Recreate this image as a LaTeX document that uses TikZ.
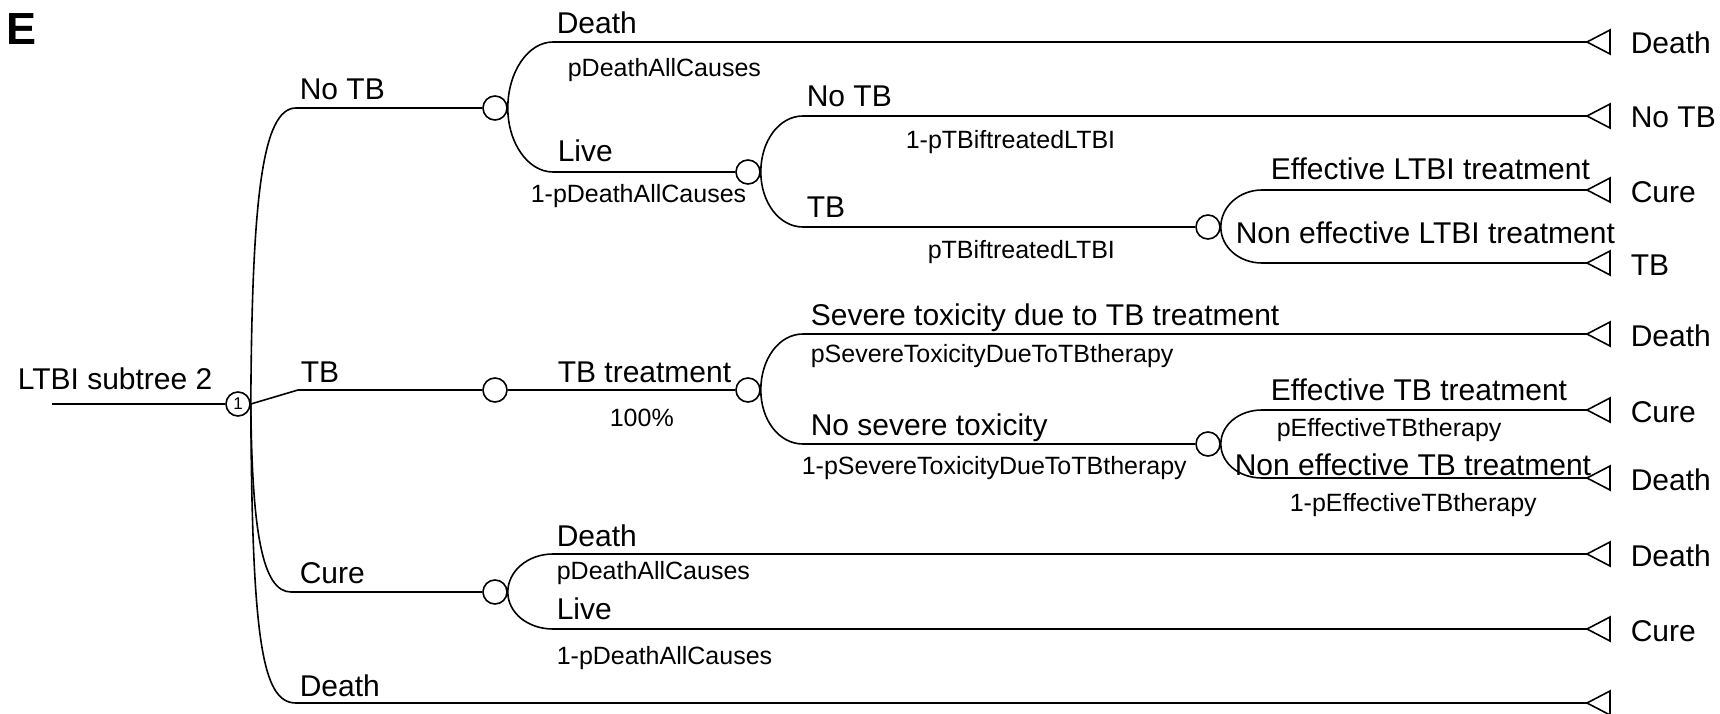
\documentclass[tikz,border=0pt]{standalone}
\usepackage{fontspec}
\setmainfont{Liberation Sans}
\newcommand{\termnode}[3]{\coordinate (#1) at (#2,#3);
  \draw[line join=miter] (#1) -- ++(23,-12) -- ++(0,24) -- cycle;}
\begin{document}
\begin{tikzpicture}[x=1pt,y=-1pt,
  line width=1.6pt,
  big/.style={anchor=base west,inner sep=0pt,font=\fontsize{30}{32}\selectfont},
  small/.style={anchor=base west,inner sep=0pt,font=\fontsize{25}{27}\selectfont},
  chance/.style={draw,circle,minimum size=24pt,inner sep=0pt,line width=1.6pt},
]
\useasboundingbox (0,0) rectangle (1720,714);

% panel letter
\node[anchor=base west,inner sep=0pt,font=\fontsize{45}{45}\selectfont\bfseries] (lE) at (6,45) {E};

% chance nodes
\node[chance,font=\fontsize{17}{17}\selectfont] (R) at (238,404) {1};
\node[chance] (C1) at (495,108) {};
\node[chance] (C2) at (748,172) {};
\node[chance] (C3) at (1208,227) {};
\node[chance] (C4) at (495,390) {};
\node[chance] (C5) at (748,390) {};
\node[chance] (C6) at (1208,444) {};
\node[chance] (C7) at (495,592) {};

% terminal nodes
\termnode{T1}{1587}{42}
\termnode{T2}{1587}{116}
\termnode{T3}{1587}{190}
\termnode{T4}{1587}{263}
\termnode{T5}{1587}{334}
\termnode{T6}{1587}{410}
\termnode{T7}{1587}{478}
\termnode{T8}{1587}{554}
\termnode{T9}{1587}{629}
\termnode{T10}{1587}{703}

% corner coordinates
\coordinate (start) at (52,404);
\coordinate (k1) at (296,108);
\coordinate (k2) at (298,390);
\coordinate (k3) at (291,592);
\coordinate (k4) at (296,703);
\coordinate (a1) at (553,42);
\coordinate (a2) at (553,172);
\coordinate (b1) at (803,116);
\coordinate (b2) at (803,227);
\coordinate (d1) at (1262,190);
\coordinate (d2) at (1262,263);
\coordinate (e1) at (803,334);
\coordinate (e2) at (803,444);
\coordinate (g1) at (1262,410);
\coordinate (g2) at (1262,478);
\coordinate (h1) at (553,554);
\coordinate (h2) at (553,629);

% connectors
\draw (start) -- (R.west);
\draw (R.east) .. controls (252,200) and (262,108) .. (k1) -- (C1.west);
\draw (R.east) -- (k2) -- (C4.west);
\draw (R.east) .. controls (252,530) and (262,592) .. (k3) -- (C7.west);
\draw (R.east) .. controls (252,640) and (262,703) .. (k4) -- (T10);

\draw (C1.east) .. controls +(0,-36) and +(-25,0) .. (a1) -- (T1);
\draw (C1.east) .. controls +(0,35) and +(-25,0) .. (a2) -- (C2.west);
\draw (C2.east) .. controls +(0,-31) and +(-24,0) .. (b1) -- (T2);
\draw (C2.east) .. controls +(0,30) and +(-24,0) .. (b2) -- (C3.west);
\draw (C3.east) .. controls +(0,-20) and +(-23,0) .. (d1) -- (T3);
\draw (C3.east) .. controls +(0,20) and +(-23,0) .. (d2) -- (T4);
\draw (C4.east) -- (C5.west);
\draw (C5.east) .. controls +(0,-31) and +(-24,0) .. (e1) -- (T5);
\draw (C5.east) .. controls +(0,30) and +(-24,0) .. (e2) -- (C6.west);
\draw (C6.east) .. controls +(0,-19) and +(-23,0) .. (g1) -- (T6);
\draw (C6.east) .. controls +(0,19) and +(-23,0) .. (g2) -- (T7);
\draw (C7.east) .. controls +(0,-21) and +(-25,0) .. (h1) -- (T8);
\draw (C7.east) .. controls +(0,21) and +(-25,0) .. (h2) -- (T9);

% branch labels
\node[big] (l1) at (17,389) {LTBI subtree 2};
\node[big] (l2) at (299,100) {No TB};
\node[big] (l3) at (556,34) {Death};
\node[small] (l4) at (567,77) {pDeathAllCauses};
\node[big] (l5) at (557,162) {Live};
\node[small] (l6) at (530,203) {1-pDeathAllCauses};
\node[big] (l7) at (806,107) {No TB};
\node[small] (l8) at (905,149) {1-pTBiftreatedLTBI};
\node[big] (l9) at (806,218) {TB};
\node[small] (l10) at (927,258) {pTBiftreatedLTBI};
\node[big] (l11) at (1270,180) {Effective LTBI treatment};
\node[big] (l12) at (1235,243) {Non effective LTBI treatment};
\node[big] (l13) at (300,382) {TB};
\node[big] (l14) at (557,382) {TB treatment};
\node[small] (l15) at (609,426) {100\%};
\node[big] (l16) at (810,325) {Severe toxicity due to TB treatment};
\node[small] (l17) at (810,362) {pSevereToxicityDueToTBtherapy};
\node[big] (l18) at (810,435) {No severe toxicity};
\node[small] (l19) at (801,474) {1-pSevereToxicityDueToTBtherapy};
\node[big] (l20) at (1270,400) {Effective TB treatment};
\node[small] (l21) at (1276,436) {pEffectiveTBtherapy};
\node[big] (l22) at (1234,475) {Non effective TB treatment};
\node[small] (l23) at (1289,511) {1-pEffectiveTBtherapy};
\node[big] (l24) at (299,583) {Cure};
\node[big] (l25) at (556,546) {Death};
\node[small] (l26) at (556,579) {pDeathAllCauses};
\node[big] (l27) at (556,619) {Live};
\node[small] (l28) at (556,664) {1-pDeathAllCauses};
\node[big] (l29) at (299,696) {Death};

% outcome labels
\node[big] (o1) at (1630,54) {Death};
\node[big] (o2) at (1630,128) {No TB};
\node[big] (o3) at (1630,202) {Cure};
\node[big] (o4) at (1630,275) {TB};
\node[big] (o5) at (1630,346) {Death};
\node[big] (o6) at (1630,422) {Cure};
\node[big] (o7) at (1630,490) {Death};
\node[big] (o8) at (1630,566) {Death};
\node[big] (o9) at (1630,641) {Cure};
\end{tikzpicture}
\end{document}
